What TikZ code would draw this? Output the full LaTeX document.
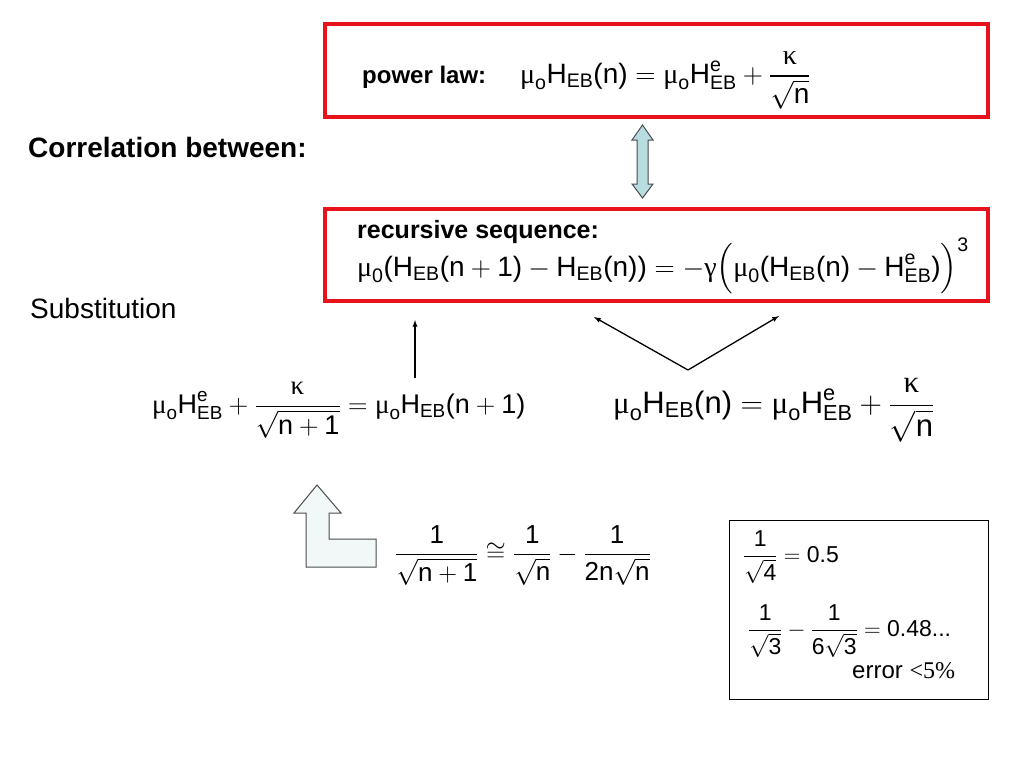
\RequirePackage{fix-cm}
\documentclass[tikz,border=0pt]{standalone}
\usepackage{amsmath}
\usepackage{amssymb}
\usepackage{fontspec}
\setmainfont{Liberation Sans}
\newfontfamily\grk{Liberation Serif}
\usepackage{tikz}
\definecolor{boxred}{RGB}{232,18,28}
\definecolor{arrowblue}{RGB}{183,221,224}
\definecolor{arrowpale}{RGB}{242,248,248}
\newcommand{\tx}[1]{\text{#1}}
\newcommand{\mum}{\text{\grk μ}}
\newcommand{\kap}{\text{\grk κ}}
\newcommand{\gam}{\text{\grk γ}}
\newcommand{\HEB}{\tx{H}_{\tx{EB}}}
\newcommand{\HEBe}{\tx{H}^{\tx{e}}_{\tx{EB}}}
\newcommand{\fs}[1]{\fontsize{#1}{#1}\selectfont}
\tikzset{
  redbox/.style={draw=boxred, line width=3.5pt, inner sep=0pt},
  formula/.style={inner sep=0pt, anchor=base west},
  link/.style={-latex, line width=1.3pt},
  blockarrow/.style={draw=gray!60!black, line width=1pt}
}

\begin{document}
\begin{tikzpicture}[x=1pt,y=-1pt]
        \useasboundingbox[fill=white] (0,0) rectangle (1024,768);
        \node[redbox, minimum width=663pt, minimum height=93pt] (lawbox) at (656.5,70.5) {};
        \node[redbox, minimum width=663pt, minimum height=92pt] (seqbox) at (656.5,255) {};
        \node[draw, line width=1pt, minimum width=259pt, minimum height=179pt] (checkbox) at (858.5,609.5) {};
        \node[formula, font={\bfseries\fs{28}}] (corr) at (28,157) {Correlation between:};
        \node[formula, font={\fs{28}}] (subst) at (30,318) {Substitution};
        \node[formula, font={\bfseries\fs{24}}] (lawlabel) at (362,83) {power law:};
        \node[formula, font={\fs{28}}] (lawform) at (520,83)
          {$\displaystyle \mum_{\tx o}\HEB\tx{(n)} = \mum_{\tx o}\HEBe + \frac{\kap}{\sqrt{\tx n}}$};
        \node[formula, font={\bfseries\fs{25}}] (seqlabel) at (357,238) {recursive sequence:};
        \node[formula, font={\fs{28}}] (seqform) at (357,276)
          {$\mum_{\tx 0}\tx{(}\HEB\tx{(n}+\tx{1)}-\HEB\tx{(n))}=-\gam\Big(\mum_{\tx 0}\tx{(}\HEB\tx{(n)}-\HEBe\tx{)}\Big)^{\tx 3}$};
        \node[formula, font={\fs{27}}] (subform) at (152,413)
          {$\displaystyle \mum_{\tx o}\HEBe + \frac{\kap}{\sqrt{\tx{n}+\tx{1}}} = \mum_{\tx o}\HEB\tx{(n}+\tx{1)}$};
        \node[formula, font={\fs{31}}] (powform) at (613,413)
          {$\displaystyle \mum_{\tx o}\HEB\tx{(n)} = \mum_{\tx o}\HEBe + \frac{\kap}{\sqrt{\tx n}}$};
        \node[formula, font={\fs{26}}] (approx) at (395,561)
          {$\displaystyle \frac{\tx 1}{\sqrt{\tx{n}+\tx{1}}} \cong \frac{\tx 1}{\sqrt{\tx n}} - \frac{\tx 1}{\tx{2n}\sqrt{\tx n}}$};
        \node[formula, font={\fs{23}}] (checkone) at (743,562)
          {$\displaystyle \frac{\tx 1}{\sqrt{\tx 4}} = \tx{0.5}$};
        \node[formula, font={\fs{23}}] (checktwo) at (748,636)
          {$\displaystyle \frac{\tx 1}{\sqrt{\tx 3}} - \frac{\tx 1}{\tx 6\sqrt{\tx 3}} = \tx{0.48...}$};
        \node[formula, font={\fs{24}}] (checkerr) at (852,678) {error {\grk <5\%}};
        \filldraw[blockarrow, fill=arrowblue] (642.5,125) -- (653,140) -- (648,140) -- (648,184) -- (653,184)
          -- (642.5,198) -- (632,184) -- (637,184) -- (637,140) -- (632,140) -- cycle;
        \filldraw[blockarrow, fill=arrowpale] (317,485) -- (341,513) -- (329,513) -- (329,539) -- (376,539)
          -- (376,567) -- (306,567) -- (306,513) -- (294,513) -- cycle;
        \coordinate (subfoot) at (415,378);
        \coordinate (subtip) at (415,320);
        \coordinate (vfoot) at (688,370);
        \coordinate (vleft) at (594,317);
        \coordinate (vright) at (779,316);
        \draw[link] (subfoot) -- (subtip);
        \draw[link] (vfoot) -- (vleft);
        \draw[link] (vfoot) -- (vright);
    \end{tikzpicture}
\end{document}
